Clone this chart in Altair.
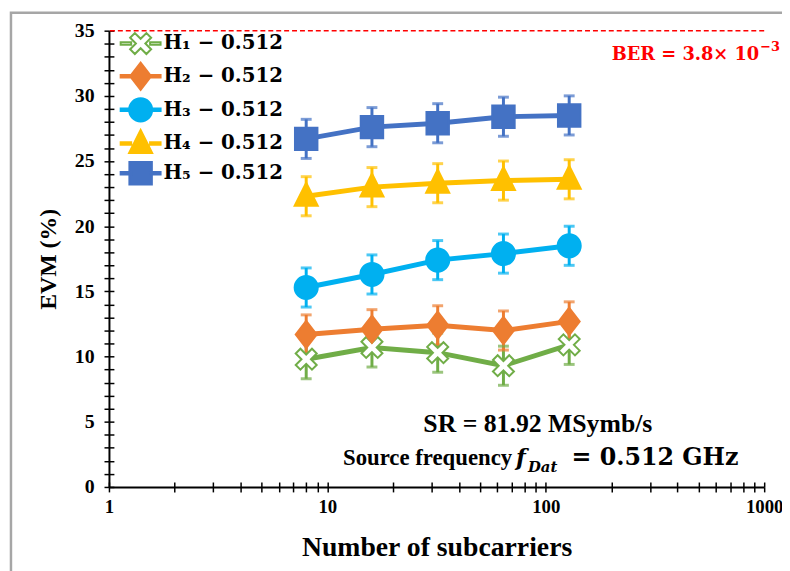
import re
import altair as alt
import pandas as pd

# ---------------- data ----------------
subcarriers = [8, 16, 32, 64, 128]
series_names = ["H₁ − 0.512", "H₂ − 0.512", "H₃ − 0.512", "H₄ − 0.512", "H₅ − 0.512"]
evm_h1 = [9.8, 10.7, 10.3, 9.3, 10.9]
evm_h2 = [11.7, 12.1, 12.4, 12.0, 12.7]
evm_h3 = [15.3, 16.3, 17.4, 17.9, 18.5]
evm_h4 = [22.3, 23.0, 23.3, 23.5, 23.6]
evm_h5 = [26.7, 27.6, 27.9, 28.4, 28.5]
evm_err = [1.5, 1.5, 1.5, 1.5, 1.5]
ber_limit = [35]
x_tick_values = [1, 2, 3, 4, 5, 6, 7, 8, 9, 10, 20, 30, 40, 50, 60, 70, 80, 90,
                 100, 200, 300, 400, 500, 600, 700, 800, 900, 1000]
y_tick_values = list(range(0, 36))

# ---------------- styles ----------------
series_colors = ["#70AD47", "#ED7D31", "#00B0F0", "#FFC000", "#4472C4"]
marker_fills = ["#FFFFFF", "#ED7D31", "#00B0F0", "#FFC000", "#4472C4"]
_norm = "M0,-1.32h0.0001M0,1.32h0.0001"
x_shape = ("M-1,-0.55L-0.55,-1L0,-0.45L0.55,-1L1,-0.55L0.45,0L1,0.55L0.55,1"
           "L0,0.45L-0.55,1L-1,0.55L-0.45,0Z")
diamond_tall = "M0,-1.3L1,0L0,1.3L-1,0Z"
triangle_path = "M0,-1.3L1.1,0.9L-1.1,0.9Z"
square_path = "M-1.07,-1.07H1.07V1.07H-1.07Z"


def circle(r):
    return "M{0},0A{0},{0},0,1,1,-{0},0A{0},{0},0,1,1,{0},0Z".format(r)


def scaled(p, k):
    return re.sub(r"-?\d+\.?\d*", lambda m: "{:g}".format(float(m.group()) * k), p)


marker_shapes = [x_shape + _norm, diamond_tall + _norm, circle(1.1) + _norm,
                 triangle_path + _norm, square_path + _norm]
# legend symbols: the marker with a short line segment on each side
LEGEND_SYMBOL_SIZE = 60
LK = 2.74         # legend symbols use a smaller symbolSize, so paths are scaled up
_seg = "M-1.9,-0.12H-0.9V0.12H-1.9ZM0.9,-0.12H1.9V0.12H0.9Z"
legend_shapes = [scaled(_seg + p, LK) for p in [x_shape, diamond_tall]] + \
                [scaled(_seg, LK) + circle(round(1.1 * LK, 3))] + \
                [scaled(_seg + p, LK) for p in [triangle_path, square_path]]

SERIF = "Liberation Serif"
MATH = "DejaVu Serif"

rows = []
for name, vals in zip(series_names, [evm_h1, evm_h2, evm_h3, evm_h4, evm_h5]):
    for sc, v, e in zip(subcarriers, vals, evm_err):
        rows.append({"series": name, "n": sc, "evm": v, "lo": v - e, "hi": v + e})
df = pd.DataFrame(rows)

x_scale = alt.Scale(type="log", domain=[1, 1000], nice=False)
y_scale = alt.Scale(domain=[0, 35], nice=False, zero=False)

x_axis_main = alt.Axis(
    values=x_tick_values, format="d",
    labelExpr="indexof([1,10,100,1000], datum.value) >= 0 ? datum.label : ''",
    title="Number of subcarriers", grid=False, orient="bottom",
    domainColor="black", domainWidth=2, tickColor="black", tickWidth=1.5, tickSize=5,
    labelFont=SERIF, labelFontSize=19, labelFontWeight="bold", labelColor="black",
    labelPadding=6, labelFlush=False, labelOverlap=False,
    titleFont=SERIF, titleFontSize=28, titleFontWeight="bold", titleColor="black",
    titlePadding=17)
x_axis_inner = alt.Axis(values=x_tick_values, labels=False, domain=False, grid=False,
                        orient="bottom", offset=-5, tickColor="black", tickWidth=1.5,
                        tickSize=5, title=None)
y_axis_main = alt.Axis(
    values=y_tick_values,
    labelExpr="datum.value % 5 == 0 ? datum.label : ''",
    title="EVM (%)", grid=False, orient="left",
    domainColor="black", domainWidth=2, tickColor="black", tickWidth=1.5, tickSize=5,
    labelFont=SERIF, labelFontSize=20, labelFontWeight="bold", labelColor="black",
    labelPadding=10, labelOverlap=False,
    titleFont=SERIF, titleFontSize=24, titleFontWeight="bold", titleColor="black",
    titlePadding=14)
y_axis_inner = alt.Axis(values=y_tick_values, labels=False, domain=False, grid=False,
                        orient="left", offset=-5, tickColor="black", tickWidth=1.5,
                        tickSize=5, title=None)

series_legend = alt.Legend(
    title=None, orient="none", legendX=22, legendY=3, symbolSize=LEGEND_SYMBOL_SIZE,
    symbolStrokeWidth=2, labelFont=MATH, labelFontSize=20, labelFontWeight="bold",
    labelColor="black", labelOffset=13, padding=0, rowPadding=0, symbolOpacity=1)

color_enc = alt.Color("series:N", scale=alt.Scale(domain=series_names, range=series_colors),
                      legend=None)

base = alt.Chart(df)

frame = alt.Chart(pd.DataFrame({"a": [0]})).mark_rect(
    fill="transparent", stroke="#A6A6A6", strokeWidth=2.5).encode(
    x=alt.value(-99), x2=alt.value(720), y=alt.value(-18), y2=alt.value(600))

ber_rule = alt.Chart(pd.DataFrame({"ber": ber_limit})).mark_rule(
    color="#FF0000", strokeDash=[5, 3], strokeWidth=1.5).encode(
    y=alt.Y("ber:Q", scale=y_scale, axis=None))

line = base.mark_line(strokeWidth=5).encode(
    x=alt.X("n:Q", scale=x_scale, axis=x_axis_main),
    y=alt.Y("evm:Q", scale=y_scale, axis=y_axis_main),
    color=color_enc)

err_rule = base.mark_rule(strokeWidth=3).encode(
    x=alt.X("n:Q", scale=x_scale, axis=None),
    y=alt.Y("lo:Q", scale=y_scale, axis=None), y2="hi:Q",
    color=color_enc)
cap_lo = base.mark_tick(orient="horizontal", thickness=3, size=11).encode(
    x=alt.X("n:Q", scale=x_scale, axis=None),
    y=alt.Y("lo:Q", scale=y_scale, axis=None), color=color_enc)
cap_hi = base.mark_tick(orient="horizontal", thickness=3, size=11).encode(
    x=alt.X("n:Q", scale=x_scale, axis=None),
    y=alt.Y("hi:Q", scale=y_scale, axis=None), color=color_enc)

points = base.mark_point(filled=True, size=450, strokeWidth=2, opacity=1).encode(
    x=alt.X("n:Q", scale=x_scale, axis=x_axis_inner),
    y=alt.Y("evm:Q", scale=y_scale, axis=y_axis_inner),
    shape=alt.Shape("series:N", scale=alt.Scale(domain=series_names, range=marker_shapes),
                    legend=None),
    fill=alt.Fill("series:N", scale=alt.Scale(domain=series_names, range=marker_fills),
                  legend=None),
    stroke=alt.Stroke("series:N", scale=alt.Scale(domain=series_names, range=series_colors),
                      legend=None))

# invisible layer that only provides the legend (line + marker symbols)
legend_layer = base.mark_point(filled=True, size=LEGEND_SYMBOL_SIZE, strokeWidth=2,
                               opacity=0).encode(
    x=alt.X("n:Q", scale=x_scale, axis=None),
    y=alt.Y("evm:Q", scale=y_scale, axis=None),
    shape=alt.Shape("series:N", scale=alt.Scale(domain=series_names, range=legend_shapes),
                    legend=series_legend),
    fill=alt.Fill("series:N", scale=alt.Scale(domain=series_names, range=marker_fills),
                  legend=series_legend),
    stroke=alt.Stroke("series:N", scale=alt.Scale(domain=series_names, range=series_colors),
                      legend=series_legend))

one = pd.DataFrame({"a": [0]})


def txt(text, xd, yd, dx=0, dy=0, font=SERIF, size=24, style="normal", align="left",
        color="black"):
    return alt.Chart(one).mark_text(
        text=text, font=font, fontSize=size, fontWeight="bold", fontStyle=style,
        align=align, baseline="alphabetic", dx=dx, dy=dy, color=color).encode(
        x=alt.X(datum=xd, axis=None), y=alt.Y(datum=yd, axis=None))


texts = [
    txt("SR = 81.92 MSymb/s", 100, 5, dx=-8, dy=10, size=26, align="center"),
    txt("Source frequency", 100, 2, dx=-34, dy=4, size=23, align="right"),
    txt("f", 100, 2, dx=-30, dy=4, font=MATH, size=23, style="italic"),
    txt("Dat", 100, 2, dx=-18, dy=11, font=MATH, size=15, style="italic"),
    txt("= 0.512 GHz", 100, 2, dx=26, dy=4, font=MATH, size=24),
    txt("BER = 3.8× 10", 1000, 35, dx=-5, dy=30, font=MATH, size=18, align="right",
        color="#FF0000"),
    txt("−3", 1000, 35, dx=-4, dy=21, font=MATH, size=13, color="#FF0000"),
]

chart = alt.layer(frame, ber_rule, line, err_rule, cap_lo, cap_hi, points, legend_layer,
                  *texts).resolve_axis(
    x="independent", y="independent"
).resolve_scale(
    shape="independent", fill="independent", stroke="independent"
).properties(
    width=662, height=461,
    autosize=alt.AutoSizeParams(type="none"),
    padding={"left": 102, "top": 20, "right": 18, "bottom": 82},
    background="white",
).configure_view(stroke=None)

chart.save("out.html", embed_options={"renderer": "svg", "actions": False})
